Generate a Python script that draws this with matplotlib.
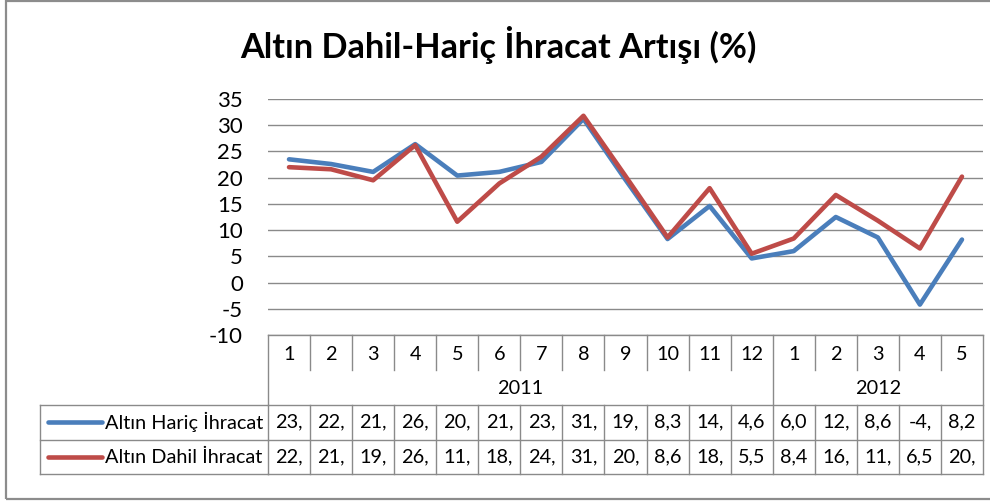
import matplotlib
matplotlib.use("Agg")
import matplotlib.pyplot as plt
import matplotlib.patches as patches
from matplotlib.transforms import blended_transform_factory

# monthly export growth (%), Jan 2011 - May 2012
months = ["1", "2", "3", "4", "5", "6", "7", "8", "9", "10", "11", "12",
          "1", "2", "3", "4", "5"]
years = ["2011", "2012"]
year_spans = [(0, 11), (12, 16)]
haric = [23.5, 22.6, 21.1, 26.4, 20.4, 21.1, 23.0, 31.2, 19.6, 8.3, 14.6, 4.6,
         6.0, 12.5, 8.6, -4.2, 8.2]
dahil = [22.0, 21.6, 19.5, 26.2, 11.6, 18.9, 24.0, 31.8, 20.3, 8.6, 18.0, 5.5,
         8.4, 16.7, 11.8, 6.5, 20.2]
series_names = ["Altın Hariç İhracat", "Altın Dahil İhracat"]
colors = ["#4A7EBB", "#BE4B48"]

plt.rcParams["font.family"] = ["Lato", "DejaVu Sans"]
plt.rcParams["axes.unicode_minus"] = False

W, H = 990, 501
fig = plt.figure(figsize=(W / 100, H / 100), dpi=100)
fx = lambda p: p / W
fy = lambda p: 1 - p / H

# outer frame
fig.patches.append(patches.Rectangle((fx(6), fy(499)), fx(990), fy(1) - fy(499),
                                     transform=fig.transFigure, fill=False,
                                     edgecolor="#8c8c8c", lw=1.6))

ax = fig.add_axes([fx(268), fy(335), fx(983) - fx(268), fy(99) - fy(335)])
x = list(range(len(months)))
ax.set_xlim(-0.5, len(months) - 0.5)
ax.set_ylim(-10, 35)
ax.set_yticks(range(-10, 36, 5))
ax.set_xticks([])
ax.grid(axis="y", color="#8a8a8a", lw=1.0)
ax.set_axisbelow(True)
for s in ax.spines.values():
    s.set_visible(False)
ax.tick_params(axis="y", length=0, pad=18, labelsize=16)

for vals, c in zip([haric, dahil], colors):
    ax.plot(x, vals, color=c, lw=3.3, solid_capstyle="round",
            solid_joinstyle="round")

fig.text(0.503, fy(45), "Altın Dahil-Hariç İhracat Artışı (%)", ha="center",
         va="center", fontsize=24.7, fontweight="bold")

# data table under the plot
T = blended_transform_factory(ax.transData, fig.transFigure)
line_kw = dict(color="#8a8a8a", lw=1.0, clip_on=False)
n = len(months)
left, right = -0.5, n - 0.5

ax.plot([left, right], [fy(335), fy(335)], transform=T, **line_kw)
for yy in (405, 440, 474):
    ax.plot([fx(40), fx(268)], [fy(yy), fy(yy)], transform=fig.transFigure, **line_kw)
    ax.plot([left, right], [fy(yy), fy(yy)], transform=T, **line_kw)
ax.plot([fx(40), fx(40)], [fy(405), fy(474)], transform=fig.transFigure, **line_kw)

full = {left, right} | {s - 0.5 for s, e in year_spans}
for i in range(n + 1):
    xb = i - 0.5
    if xb in full:
        ax.plot([xb, xb], [fy(335), fy(474)], transform=T, **line_kw)
    else:
        ax.plot([xb, xb], [fy(335), fy(370)], transform=T, **line_kw)
        ax.plot([xb, xb], [fy(405), fy(474)], transform=T, **line_kw)

for i, m in enumerate(months):
    ax.text(i, fy(354), m, transform=T, ha="center", va="center", fontsize=14.3)
for yr, (s, e) in zip(years, year_spans):
    ax.text((s + e) / 2, fy(388), yr, transform=T, ha="center", va="center",
            fontsize=14.3)

for vals, name, c, yc in zip([haric, dahil], series_names, colors, [422, 457]):
    ax.plot([fx(48), fx(102)], [fy(yc), fy(yc)], transform=fig.transFigure,
            color=c, lw=3.3, solid_capstyle="round", clip_on=False)
    fig.text(fx(105), fy(yc), name, ha="left", va="center", fontsize=14.3)
    for i, v in enumerate(vals):
        lab = f"{v:.1f}".replace(".", ",")[:3]
        ax.text(i, fy(yc), lab, transform=T, ha="center", va="center",
                fontsize=14.3)

fig.savefig("out.png", dpi=100)
